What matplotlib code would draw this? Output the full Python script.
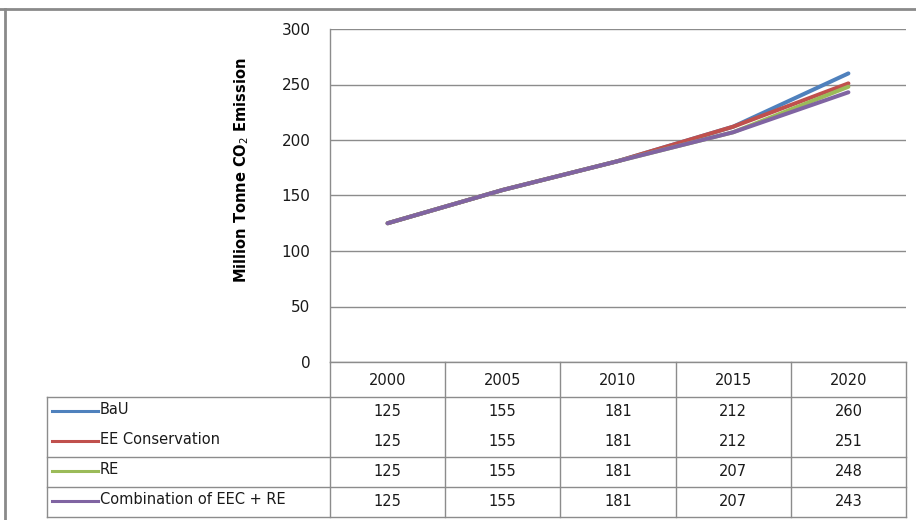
import matplotlib
matplotlib.use("Agg")
import matplotlib.pyplot as plt
from matplotlib.transforms import blended_transform_factory

# Emission scenarios (million tonne CO2)
years = ["2000", "2005", "2010", "2015", "2020"]
series_names = ["BaU", "EE Conservation", "RE", "Combination of EEC + RE"]
bau = [125, 155, 181, 212, 260]
ee_conservation = [125, 155, 181, 212, 251]
renewable = [125, 155, 181, 207, 248]
combination = [125, 155, 181, 207, 243]
y_ticks = [0, 50, 100, 150, 200, 250, 300]

series_values = [bau, ee_conservation, renewable, combination]
colors = ["#4F81BD", "#C0504D", "#9BBB59", "#8064A2"]

W, H = 916, 520
plt.rcParams["font.family"] = ["DejaVu Sans"]
fig = plt.figure(figsize=(W / 100, H / 100), dpi=100)
GRID = "#8c8c8c"
TXT = "#1a1a1a"

# plot area in pixel terms
px_left, px_right, px_top, px_bottom = 330, 906, 29, 362
ax = fig.add_axes([px_left / W, 1 - px_bottom / H,
                   (px_right - px_left) / W, (px_bottom - px_top) / H])
xs = list(range(len(years)))
ax.set_xlim(-0.5, len(years) - 0.5)
ax.set_ylim(0, 300)
ax.set_yticks(y_ticks)
ax.set_yticklabels([str(v) for v in y_ticks], fontsize=11, color=TXT)
ax.tick_params(axis="y", length=0, pad=14)
ax.set_xticks([])
for s in ["top", "right", "bottom"]:
    ax.spines[s].set_visible(False)
ax.spines["left"].set_color(GRID)
ax.spines["left"].set_linewidth(1.0)
ax.yaxis.grid(True, color=GRID, linewidth=1.0)
ax.set_axisbelow(True)

for vals, c in zip(series_values, colors):
    ax.plot(xs, vals, color=c, linewidth=2.9, solid_capstyle="round", zorder=3)

ax.set_ylabel("Million Tonne CO$_2$ Emission", fontsize=10.5, fontweight="bold",
              color="black")
ax.yaxis.set_label_coords((251 - px_left) / (px_right - px_left),
                          (px_bottom - 170) / (px_bottom - px_top))

# overlay for data table and outer frame, in pixel coordinates
ov = fig.add_axes([0, 0, 1, 1], zorder=5)
ov.set_xlim(0, W)
ov.set_ylim(H, 0)
ov.axis("off")
ov.patch.set_alpha(0)
bt = blended_transform_factory(ax.transData, ov.transData)

# outer frame
ov.plot([0, W], [8.5, 8.5], color="#8a8a8a", linewidth=2.0)
ov.plot([5, 5], [8.5, H], color="#8a8a8a", linewidth=2.0)

# table grid
hdr_top, hdr_bot = 362, 397
row_h = 30
rows_y = [hdr_bot + row_h * (i + 0.5) for i in range(len(series_names))]
tab_bot = hdr_bot + row_h * len(series_names)
lw_t = 1.0
for b in [-0.5 + i for i in range(len(years) + 1)]:
    ov.plot([b, b], [hdr_top, tab_bot], color=GRID, linewidth=lw_t, transform=bt)
ov.plot([-0.5, len(years) - 0.5], [hdr_top, hdr_top], color=GRID, linewidth=lw_t, transform=bt)
ov.plot([-0.5, len(years) - 0.5], [hdr_bot, hdr_bot], color=GRID, linewidth=lw_t, transform=bt)
ov.plot([47, px_left], [hdr_bot, hdr_bot], color=GRID, linewidth=lw_t)
ov.plot([47, 47], [hdr_bot, tab_bot], color=GRID, linewidth=lw_t)
for yline in [hdr_bot + 2 * row_h, hdr_bot + 3 * row_h, tab_bot]:
    ov.plot([47, px_right], [yline, yline], color=GRID, linewidth=lw_t)

for i, yr in enumerate(years):
    ov.text(i, (hdr_top + hdr_bot) / 2 + 1, yr, transform=bt, ha="center",
            va="center", fontsize=10.5, color=TXT)

for name, vals, c, yy in zip(series_names, series_values, colors, rows_y):
    ov.plot([52, 98], [yy - 1, yy - 1], color=c, linewidth=2.2)
    ov.text(100, yy - 2, name, ha="left", va="center", fontsize=10.5, color=TXT)
    for i, v in enumerate(vals):
        ov.text(i, yy, str(v), transform=bt, ha="center", va="center",
                fontsize=10.5, color=TXT)

fig.savefig("out.png", dpi=100, facecolor="white")
